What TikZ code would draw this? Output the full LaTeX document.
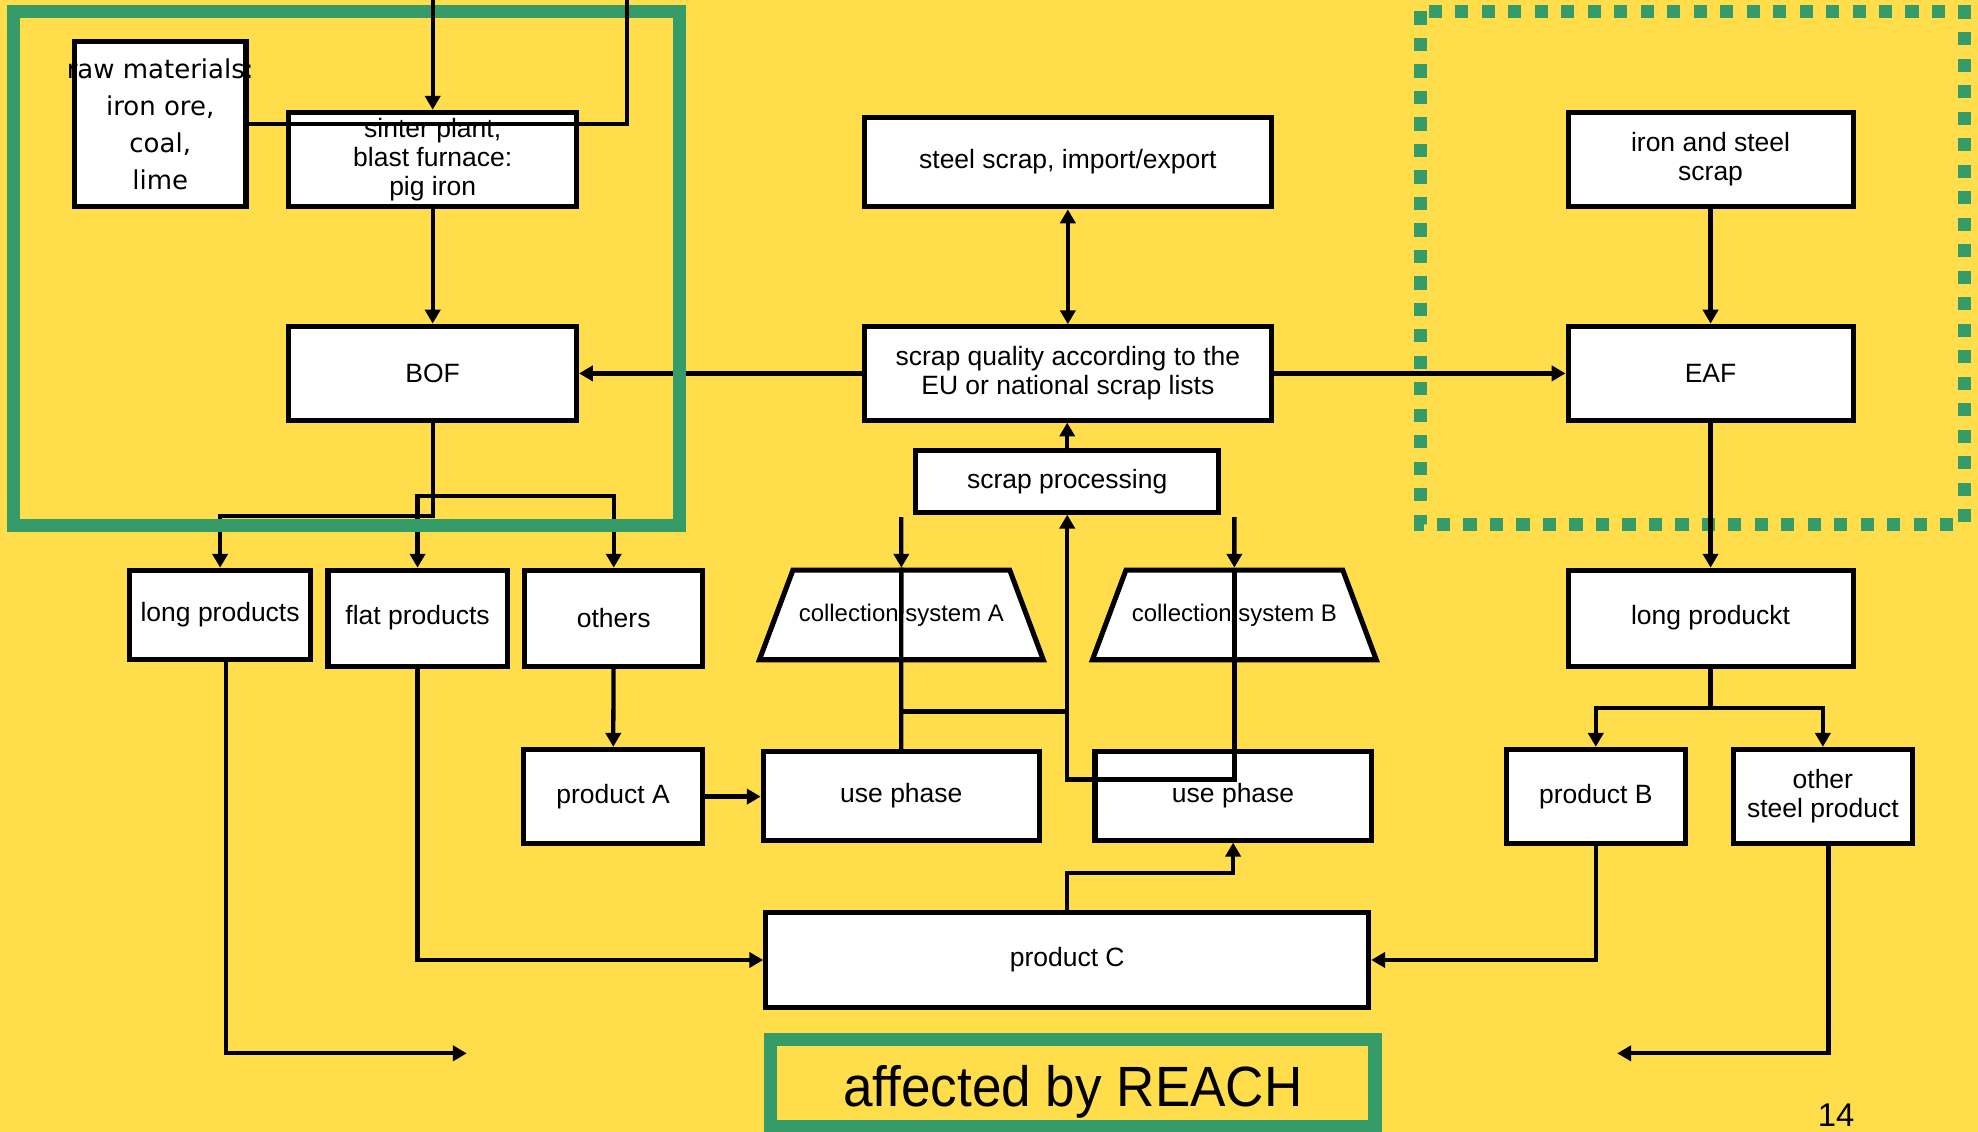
\documentclass[tikz,border=0pt]{standalone}
\usepackage{fontspec}
\setmainfont{Liberation Sans}
\newfontfamily\rawfont{DejaVu Sans}
\newfontfamily\reachfont[FakeStretch=0.935]{Liberation Sans}
\usetikzlibrary{arrows.meta, shapes.geometric}
\definecolor{slideyellow}{RGB}{255,221,75}
\definecolor{reachgreen}{RGB}{53,155,104}

\begin{document}
\begin{tikzpicture}[x=0.5pt, y=-0.5pt,
	>={Triangle[length=5.5pt, width=6pt]},
	box/.style={draw, line width=2pt, fill=white, inner sep=0pt, align=center, font=\fontsize{10.5}{11.5}\selectfont},
	collect/.style={box, trapezium, trapezium left angle=69.5, trapezium right angle=69.5, trapezium stretches body,
		text height=6.9pt, text depth=2pt, inner ysep=13.3pt, font=\fontsize{9.5}{11}\selectfont},
	link/.style={line width=1.7pt},
	flow/.style={link, ->}]

	% Slide
	\fill[slideyellow] (0,0) rectangle (1568,897);
	\useasboundingbox (0,0) rectangle (1568,897);

	% EAF route, dotted frame
	\draw[reachgreen, line width=5.25pt, dash pattern=on 5.25pt off 5.25pt] (1126,9) rectangle (1557,416);

	% Nodes boxed
	\node[box, minimum width=68pt, minimum height=65.5pt, inner xsep=-4pt, font=\rawfont\fontsize{10.3}{14.7}\selectfont] (raw) at (127,98.5) {raw materials:\\iron ore,\\coal,\\lime};
	\node[box, minimum width=114pt, minimum height=37.5pt] (sinter) at (343,126.5) {sinter plant,\\blast furnace:\\pig iron};
	\node[box, minimum width=114pt, minimum height=37.5pt] (bof) at (343,296) {BOF};
	\node[box, minimum width=161.5pt, minimum height=35.5pt] (trade) at (846.5,128.5) {steel scrap, import/export};
	\node[box, minimum width=161.5pt, minimum height=37pt] (quality) at (846.5,296) {scrap quality according to the\\EU or national scrap lists};
	\node[box, minimum width=120pt, minimum height=24.5pt] (proc) at (846,381.5) {scrap processing};
	\node[box, minimum width=113pt, minimum height=37.5pt] (ironscrap) at (1356,126.5) {iron and steel\\scrap};
	\node[box, minimum width=113pt, minimum height=37.5pt] (eaf) at (1356,296) {EAF};

	\node[box, minimum width=71.5pt, minimum height=35.5pt] (long) at (174.5,487.5) {long products};
	\node[box, minimum width=71pt, minimum height=38pt] (flat) at (331,490) {flat products};
	\node[box, minimum width=70.5pt, minimum height=38pt] (others) at (486.5,490) {others};
	\node[collect, minimum width=112.5pt, minimum height=35.5pt] (collA) at (714.5,487.5) {collection system A};
	\node[collect, minimum width=112.5pt, minimum height=35.5pt] (collB) at (978.5,487.5) {collection system B};
	\node[box, minimum width=113pt, minimum height=38pt] (longeaf) at (1356,490) {long produckt};

	\node[box, minimum width=71pt, minimum height=37.5pt] (prodA) at (486,631.5) {product A};
	\node[box, minimum width=109.5pt, minimum height=35pt] (useA) at (714.5,631) {use phase};
	\node[box, minimum width=109.5pt, minimum height=35pt] (useB) at (977.5,631) {use phase};
	\node[box, minimum width=71pt, minimum height=37.5pt] (prodB) at (1265,631.5) {product B};
	\node[box, minimum width=71pt, minimum height=37.5pt] (otherprod) at (1445,631.5) {other\\steel product};
	\node[box, minimum width=239pt, minimum height=38pt] (prodC) at (846,761) {product C};

	\node[draw=reachgreen, line width=5.25pt, minimum width=239.5pt, minimum height=34.5pt, inner sep=0pt, text height=18.5pt, text depth=0pt, font=\reachfont\fontsize{22.5}{22.5}\selectfont] (reach) at (850.5,858.5) {affected by REACH};
	\node[anchor=base, inner sep=0pt, font=\fontsize{13}{13}\selectfont] (page) at (1455.5,893) {14};

	% Free ends
	\coordinate (topA) at (343,0);
	\coordinate (topB) at (497,0);
	\coordinate (bofsplit) at (343,409);
	\coordinate (prodsplit) at (400,393);
	\coordinate (leftout) at (370,835);
	\coordinate (rightout) at (1282,835);
	\coordinate (eafsplit) at (1356,561);
	\coordinate (inA) at (714.5,410);
	\coordinate (inB) at (978.5,410);
	\coordinate (joinA) at (846,564);
	\coordinate (loopB) at (846,618);

	% Edges, BOF route
	\draw[flow] (sinter) -- (bof);
	\draw[flow] (bof.south) -- (bofsplit) -| (long.north);
	\draw[link, <->] (flat.north) |- (prodsplit) -| (others.north);
	\draw[flow] ([xshift=2.25pt]long.south) |- (leftout);
	\draw[flow] (flat.south) |- (prodC.west);
	\draw[flow] (others) -- (prodA);
	\draw[flow] (prodA.east) -- (prodA.east -| useA.west);

	% Edges, scrap
	\draw[link, <->] (trade) -- (quality);
	\draw[flow] (quality) -- (bof);
	\draw[flow] (quality) -- (eaf);
	\draw[flow] (proc.north) -- (proc.north |- quality.south);
	\draw[flow] (inA) -- (collA.north);
	\draw[flow] (inB) -- (collB.north);
	\draw[link] (collA.north) -- (useA.north);
	\draw[flow] (useA.north |- joinA) -- (joinA) -- (proc.south);
	\draw[link] (collB.north) |- (loopB) -- (joinA);
	\draw[flow] (prodC.north) -- ++(0,-29) -| (useB.south);

	% Edges, EAF route
	\draw[flow] (ironscrap) -- (eaf);
	\draw[flow] (eaf) -- (longeaf);
	\draw[flow] (longeaf.south) -- (eafsplit) -| (prodB.north);
	\draw[flow] (eafsplit) -| (otherprod.north);
	\draw[flow] (prodB.south) |- (prodC.east);
	\draw[flow] ([xshift=2.25pt]otherprod.south) |- (rightout);

	% BOF route, solid frame
	\draw[reachgreen, line width=5.25pt] (11,9) rectangle (538.5,416.5);

	% Inputs from above
	\draw[flow] (topA) -- (sinter.north);
	\draw[link] (topB) |- (raw.east);
\end{tikzpicture}
\end{document}
